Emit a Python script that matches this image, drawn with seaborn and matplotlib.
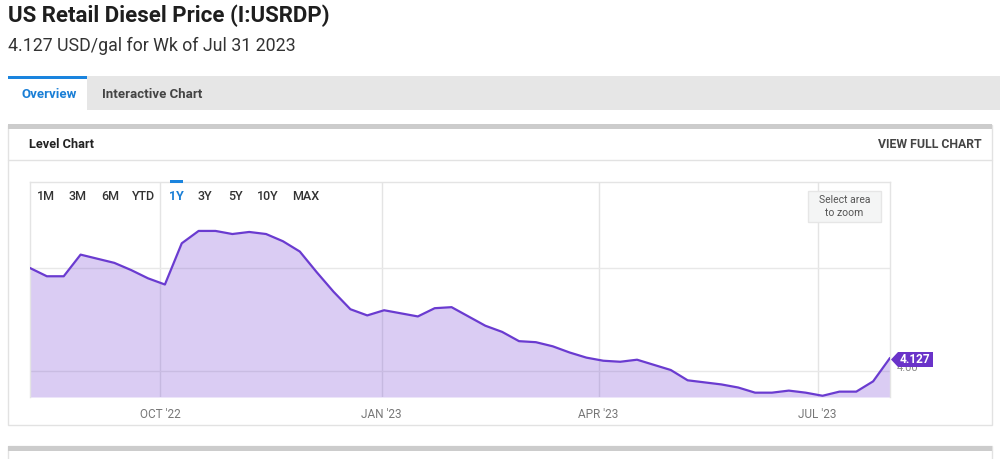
import numpy as np
import pandas as pd
import matplotlib
matplotlib.use("Agg")
import matplotlib.pyplot as plt
import matplotlib.patches as mpatches
import seaborn as sns

# weekly US retail diesel price, USD/gal
weeks = pd.date_range("2022-08-08", "2023-07-31", freq="7D")
price = [5.00, 4.92, 4.92, 5.13, 5.09, 5.05, 4.98, 4.90, 4.84, 5.24,
         5.36, 5.36, 5.33, 5.35, 5.33, 5.26, 5.16, 4.96, 4.77, 4.60,
         4.54, 4.59, 4.56, 4.53, 4.61, 4.62, 4.53, 4.44, 4.38, 4.29,
         4.28, 4.24, 4.18, 4.13, 4.10, 4.09, 4.11, 4.06, 4.01, 3.91,
         3.89, 3.87, 3.84, 3.79, 3.79, 3.81, 3.79, 3.76, 3.80, 3.80,
         3.90, 4.127]
tick_dates = pd.to_datetime(["2022-10-01", "2023-01-01", "2023-04-01", "2023-07-01"])
tick_labels = ["OCT '22", "JAN '23", "APR '23", "JUL '23"]
grid_levels = [4.00, 5.00]
ranges = ["1M", "3M", "6M", "YTD", "1Y", "3Y", "5Y", "10Y", "MAX"]
range_x = [37, 69, 101, 132, 169, 198, 228, 257, 292]

df = pd.DataFrame({"week": weeks, "price": price})

sns.set_theme(style="white")
plt.rcParams["font.family"] = ["Roboto", "DejaVu Sans"]

W, H = 1000, 459
fig = plt.figure(figsize=(W / 100, H / 100), dpi=100)


def fx(x):
    return x / W


def fy(y):
    return 1 - y / H


def rect(x0, y0, x1, y1, zorder=-1, **kw):
    fig.patches.append(mpatches.Rectangle((fx(x0), fy(y1)), fx(x1) - fx(x0), fy(y0) - fy(y1),
                                          transform=fig.transFigure, zorder=zorder, **kw))


def txt(x, y, s, **kw):
    fig.text(fx(x), fy(y), s, va="center", zorder=10, **kw)


# header
txt(8, 16, "US Retail Diesel Price (I:USRDP)", fontsize=16, fontweight="bold", color="#1e1e1e")
txt(8, 46, "4.127 USD/gal for Wk of Jul 31 2023", fontsize=12.8, color="#333333")

# tabs
rect(8, 76, 1000, 110, facecolor="#e6e6e6", edgecolor="none")
rect(8, 76, 87, 110, facecolor="white", edgecolor="none")
rect(8, 76, 87, 79, facecolor="#1a84de", edgecolor="none")
txt(22, 94, "Overview", fontsize=9.5, fontweight="bold", color="#1a7fd6")
txt(102, 94, "Interactive Chart", fontsize=9.5, fontweight="bold", color="#444444")

# card
rect(8, 125, 992, 425, facecolor="white", edgecolor="#e2e2e2", linewidth=1, zorder=-2)
rect(8, 124, 992, 129, facecolor="#cccccc", edgecolor="none")
fig.add_artist(plt.Line2D([fx(8), fx(992)], [fy(160), fy(160)], color="#e2e2e2", lw=1, zorder=-1))
txt(29, 145, "Level Chart", fontsize=9.2, fontweight="bold", color="#222222")
txt(982, 145, "VIEW FULL CHART", fontsize=8.8, fontweight="bold", color="#444444", ha="right")

# next card peeking at the bottom
rect(8, 446, 992, 470, facecolor="white", edgecolor="#e2e2e2", linewidth=1, zorder=-2)
rect(8, 446, 992, 451, facecolor="#cccccc", edgecolor="none")

# chart
ax = fig.add_axes([fx(30), fy(397), fx(890) - fx(30), fy(182) - fy(397)])
ax.set_zorder(1)
ax.patch.set_alpha(0)
ymin, ymax = 3.748, 5.835
ax.fill_between(df["week"], df["price"], ymin, color=(122 / 255, 75 / 255, 214 / 255), alpha=0.28,
                linewidth=0, zorder=2)
sns.lineplot(data=df, x="week", y="price", ax=ax, color="#6a3bd0", linewidth=1.6, zorder=3)
for d in tick_dates:
    ax.axvline(d, color="#e4e4e4", lw=1, zorder=1.5)
for g in grid_levels:
    ax.axhline(g, color="#e8e8e8", lw=1, zorder=1.5)
ax.set_xlim(weeks[0], weeks[-1])
ax.set_ylim(ymin, ymax)
ax.set_xticks(tick_dates)
ax.set_xticklabels(tick_labels, fontsize=8.5, color="#777777")
ax.tick_params(axis="x", length=0, pad=8)
ax.set_yticks([])
ax.set_xlabel("")
ax.set_ylabel("")
for side in ["left", "top", "right"]:
    ax.spines[side].set_color("#e4e4e4")
    ax.spines[side].set_linewidth(1)
ax.spines["bottom"].set_visible(False)
ax.grid(False)

# range buttons
for r, x in zip(ranges, range_x):
    col = "#1a7fd6" if r == "1Y" else "#333333"
    txt(x, 196, r, fontsize=9, fontweight="bold" if r == "1Y" else "medium", color=col)
rect(170, 180, 183, 183, facecolor="#1a84de", edgecolor="none", zorder=5)

# zoom hint box
rect(808, 191, 881, 222, facecolor="#f4f5f5", edgecolor="#e6e6e6", linewidth=1, zorder=5)
txt(844.5, 200, "Select area", fontsize=7.5, color="#555555", ha="center")
txt(844.5, 213, "to zoom", fontsize=7.5, color="#555555", ha="center")

# last value label (the 4.00 axis label sits mostly behind it)
txt(897, 368, "4.00", fontsize=8, color="#888888")
tag = mpatches.Polygon([(fx(891), fy(359.5)), (fx(898), fy(352)), (fx(933), fy(352)),
                        (fx(933), fy(367)), (fx(898), fy(367))], closed=True,
                       transform=fig.transFigure, facecolor="#6a33c9", edgecolor="none", zorder=11)
fig.patches.append(tag)
fig.text(fx(915), fy(359.5), "4.127", va="center", ha="center", fontsize=8.5, fontweight="bold",
         color="white", zorder=12)

fig.savefig("out.png", dpi=100)
